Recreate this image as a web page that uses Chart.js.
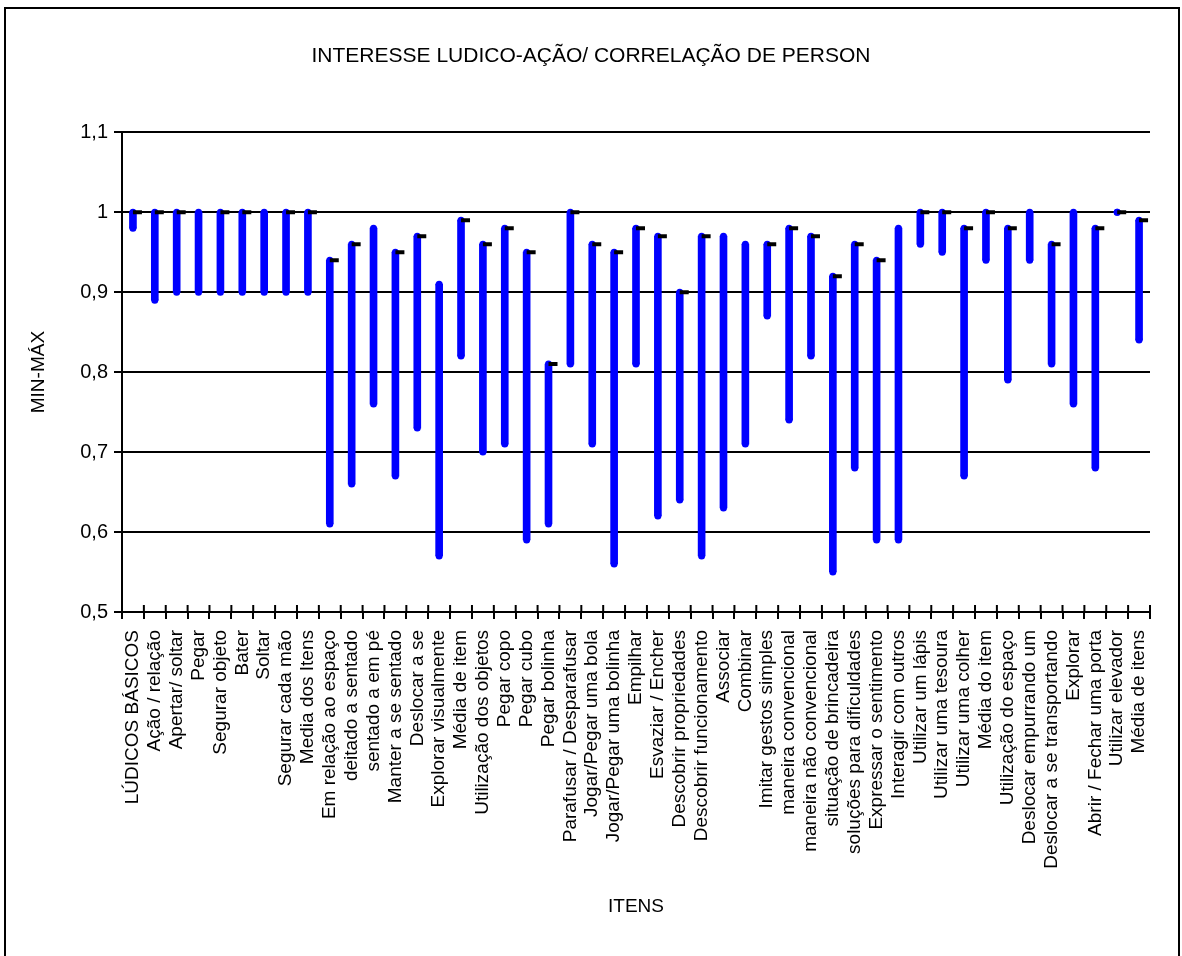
<!DOCTYPE html>
<html>
<head>
<meta charset="utf-8">
<title>Interesse lúdico-ação</title>
<script src="https://cdn.jsdelivr.net/npm/chart.js@4"></script>
<style>
  html, body { margin: 0; padding: 0; background: #fff; }
</style>
</head>
<body>
<canvas id="chart" width="1182" height="956"></canvas>
<script>
const categories = [
  "LÚDICOS BÁSICOS", "Ação / relação", "Apertar/ soltar", "Pegar", "Segurar objeto",
  "Bater", "Soltar", "Segurar cada mão", "Media dos Itens", "Em relação ao espaço",
  "deitado a sentado", "sentado a em pé", "Manter a se sentado", "Deslocar a se",
  "Explorar visualmente", "Média de item", "Utilização dos objetos", "Pegar copo",
  "Pegar cubo", "Pegar bolinha", "Parafusar / Desparafusar", "Jogar/Pegar uma bola",
  "Jogar/Pegar uma bolinha", "Empilhar", "Esvaziar / Encher", "Descobrir propriedades",
  "Descobrir funcionamento", "Associar", "Combinar", "Imitar gestos simples",
  "maneira convencional", "maneira não convencional", "situação de brincadeira",
  "soluções para dificuldades", "Expressar o sentimento", "Interagir com outros",
  "Utilizar um lápis", "Utilizar uma tesoura", "Utilizar uma colher", "Média do item",
  "Utilização do espaço", "Deslocar empurrando um", "Deslocar a se transportando",
  "Explorar", "Abrir / Fechar uma porta", "Utilizar elevador", "Média de itens"
];

// mínimo e máximo de cada item
const minValues = [
  0.98, 0.89, 0.90, 0.90, 0.90, 0.90, 0.90, 0.90, 0.90, 0.61,
  0.66, 0.76, 0.67, 0.73, 0.57, 0.82, 0.70, 0.71, 0.59, 0.61,
  0.81, 0.71, 0.56, 0.81, 0.62, 0.64, 0.57, 0.63, 0.71, 0.87,
  0.74, 0.82, 0.55, 0.68, 0.59, 0.59, 0.96, 0.95, 0.67, 0.94,
  0.79, 0.94, 0.81, 0.76, 0.68, 1.00, 0.84
];
const maxValues = [
  1.00, 1.00, 1.00, 1.00, 1.00, 1.00, 1.00, 1.00, 1.00, 0.94,
  0.96, 0.98, 0.95, 0.97, 0.91, 0.99, 0.96, 0.98, 0.95, 0.81,
  1.00, 0.96, 0.95, 0.98, 0.97, 0.90, 0.97, 0.97, 0.96, 0.96,
  0.98, 0.97, 0.92, 0.96, 0.94, 0.98, 1.00, 1.00, 0.98, 1.00,
  0.98, 1.00, 0.96, 1.00, 0.98, 1.00, 0.99
];
// valor de fechamento (traço preto); null onde não há
const closeValues = [
  1.00, 1.00, 1.00, null, 1.00, 1.00, null, 1.00, 1.00, 0.94,
  0.96, null, 0.95, 0.97, null, 0.99, 0.96, 0.98, 0.95, 0.81,
  1.00, 0.96, 0.95, 0.98, 0.97, 0.90, 0.97, null, null, 0.96,
  0.98, 0.97, 0.92, 0.96, 0.94, null, 1.00, 1.00, 0.98, 1.00,
  0.98, null, 0.96, null, 0.98, 1.00, 0.99
];

const yMin = 0.5;
const yMax = 1.1;
const yStep = 0.1;

const blue = '#0000ff';

Chart.defaults.font.family = '"Liberation Sans", Arial, sans-serif';
Chart.defaults.font.size = 19;
Chart.defaults.color = '#000';

// moldura externa e fundo branco
const framePlugin = {
  id: 'frame',
  beforeDraw(chart) {
    const ctx = chart.ctx;
    ctx.save();
    ctx.fillStyle = '#fff';
    ctx.fillRect(0, 0, chart.width, chart.height);
    ctx.strokeStyle = '#000';
    ctx.lineWidth = 2;
    ctx.strokeRect(5, 8, 1174, 970);
    ctx.restore();
  }
};

// parte de cima das marcas do eixo X (cruzando o eixo)
const crossTicks = {
  id: 'crossTicks',
  afterDraw(chart) {
    const x = chart.scales.x;
    const bottom = chart.chartArea.bottom;
    const step = x.getPixelForValue(1) - x.getPixelForValue(0);
    const ctx = chart.ctx;
    ctx.save();
    ctx.strokeStyle = '#000';
    ctx.lineWidth = 2;
    ctx.beginPath();
    for (let i = 0; i <= categories.length; i++) {
      const px = x.getPixelForValue(i) - step / 2;
      ctx.moveTo(px, bottom - 7);
      ctx.lineTo(px, bottom);
    }
    ctx.stroke();
    ctx.restore();
  }
};

// pontas arredondadas das barras min-máx
const capDataset = (values) => ({
  type: 'line',
  data: values,
  showLine: false,
  pointStyle: 'circle',
  pointRadius: 3.5,
  pointBorderWidth: 0,
  pointBackgroundColor: blue,
  order: 2
});

new Chart(document.getElementById('chart'), {
  data: {
    labels: categories,
    datasets: [
      {
        type: 'line',
        label: 'Fechamento',
        data: closeValues,
        showLine: false,
        pointStyle: 'dash',
        pointRadius: 9,
        pointBorderWidth: 4,
        pointBorderColor: '#000',
        pointBackgroundColor: '#000',
        order: 1
      },
      capDataset(maxValues),
      capDataset(minValues),
      {
        type: 'bar',
        label: 'Min-Máx',
        data: categories.map((c, i) => [minValues[i], maxValues[i]]),
        backgroundColor: blue,
        barThickness: 7,
        borderSkipped: false,
        order: 3
      }
    ]
  },
  options: {
    responsive: false,
    animation: false,
    events: [],
    layout: { padding: 0 },
    plugins: {
      legend: { display: false },
      tooltip: { enabled: false },
      title: {
        display: true,
        text: 'INTERESSE LUDICO-AÇÃO/ CORRELAÇÃO DE PERSON',
        color: '#000',
        font: { size: 21, weight: 'normal' },
        padding: { top: 44, bottom: 63 }
      }
    },
    scales: {
      x: {
        offset: true,
        grid: {
          offset: true,
          drawOnChartArea: false,
          drawTicks: true,
          tickLength: 7,
          color: '#000',
          lineWidth: 2
        },
        border: { color: '#000', width: 2 },
        ticks: { autoSkip: false, maxRotation: 90, minRotation: 90, padding: 11, color: '#000' },
        title: { display: true, text: 'ITENS', color: '#000', padding: { top: 0, bottom: 38 } },
        afterFit(scale) { scale.height = 344; }
      },
      y: {
        min: yMin,
        max: yMax,
        ticks: {
          stepSize: yStep,
          padding: 6,
          color: '#000',
          font: { size: 20 },
          callback: v => String(Math.round(v * 10) / 10).replace('.', ',')
        },
        grid: { color: '#000', lineWidth: 2, tickLength: 8 },
        border: { color: '#000', width: 2 },
        title: { display: true, text: 'MIN-MÁX', color: '#000', padding: { top: 27, bottom: 0 } },
        afterFit(scale) { scale.width = 122; }
      },
      // margem direita vazia ao lado da área de plotagem
      yRight: {
        position: 'right',
        display: true,
        grid: { display: false, drawTicks: false },
        border: { display: false },
        ticks: { display: false },
        afterFit(scale) { scale.width = 32; }
      }
    }
  },
  plugins: [framePlugin, crossTicks]
});
</script>
</body>
</html>
